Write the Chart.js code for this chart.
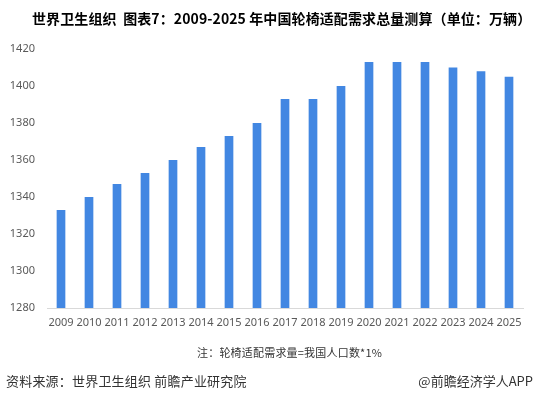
<!DOCTYPE html>
<html>
<head>
<meta charset="utf-8">
<script src="https://cdn.jsdelivr.net/npm/chart.js@4"></script>
<style>
  body { margin: 0; background: #fff; }
  #wrap { position: relative; width: 539px; height: 393px; font-family: "Noto Sans CJK SC", "Noto Sans", sans-serif; }
  #chartId { position: absolute; left: 0; top: 0; }
  .txt { position: absolute; white-space: nowrap; }
  #title { left: 32px; top: 8px; font-size: 14px; font-weight: bold; color: #000; letter-spacing: 0.1px; }
  #note { left: 197px; top: 344px; font-size: 11px; color: #333; letter-spacing: 0.2px; }
  #src { left: 6px; top: 371px; font-size: 13px; color: #333; letter-spacing: 0.2px; }
  #app { right: 6px; top: 371px; font-size: 13px; color: #333; }
</style>
</head>
<body>
<div id="wrap">
  <canvas id="chartId" width="539" height="393"></canvas>
  <div class="txt" id="title">世界卫生组织&nbsp; 图表7：2009-2025 年中国轮椅适配需求总量测算（单位：万辆）</div>
  <div class="txt" id="note">注：轮椅适配需求量=我国人口数*1%</div>
  <div class="txt" id="src">资料来源：世界卫生组织 前瞻产业研究院</div>
  <div class="txt" id="app">@前瞻经济学人APP</div>
</div>
<script>
var years = ['2009','2010','2011','2012','2013','2014','2015','2016','2017','2018','2019','2020','2021','2022','2023','2024','2025']
var demand = [1333, 1340, 1347, 1353, 1360, 1367, 1373, 1380, 1393, 1393, 1400, 1413, 1413, 1413, 1410, 1408, 1405]
var yMin = 1280, yMax = 1420, yStep = 20

var chrt = document.getElementById("chartId").getContext("2d");

var barChart = new Chart(chrt, {
    type: 'bar',
    data: {
        labels: years,
        datasets: [{
            label: '需求总量',
            data: demand,
            backgroundColor: '#4287e2',
            borderWidth: 0,
            barPercentage: 0.31,
            categoryPercentage: 1
        }]
    },
    options: {
        responsive: false,
        animation: false,
        layout: {
            padding: { top: 49, right: 16, bottom: 55, left: 0 }
        },
        plugins: {
            legend: { display: false },
            tooltip: { enabled: false }
        },
        scales: {
            x: {
                grid: { display: false, drawTicks: false },
                border: { display: true, color: '#d9d9d9', width: 1 },
                ticks: {
                    color: '#595959',
                    font: { size: 11, family: 'Noto Sans' },
                    padding: 8,
                    maxRotation: 0,
                    autoSkip: false
                },
                afterFit: function(scale) { scale.height = 30 }
            },
            y: {
                min: yMin,
                max: yMax,
                grid: { display: false, drawTicks: false },
                border: { display: false },
                ticks: {
                    stepSize: yStep,
                    color: '#595959',
                    font: { size: 11, family: 'Noto Sans' },
                    padding: 12,
                    callback: function(v) { return String(v) }
                },
                afterFit: function(scale) { scale.width = 47 }
            }
        }
    }
});
</script>
</body>
</html>
